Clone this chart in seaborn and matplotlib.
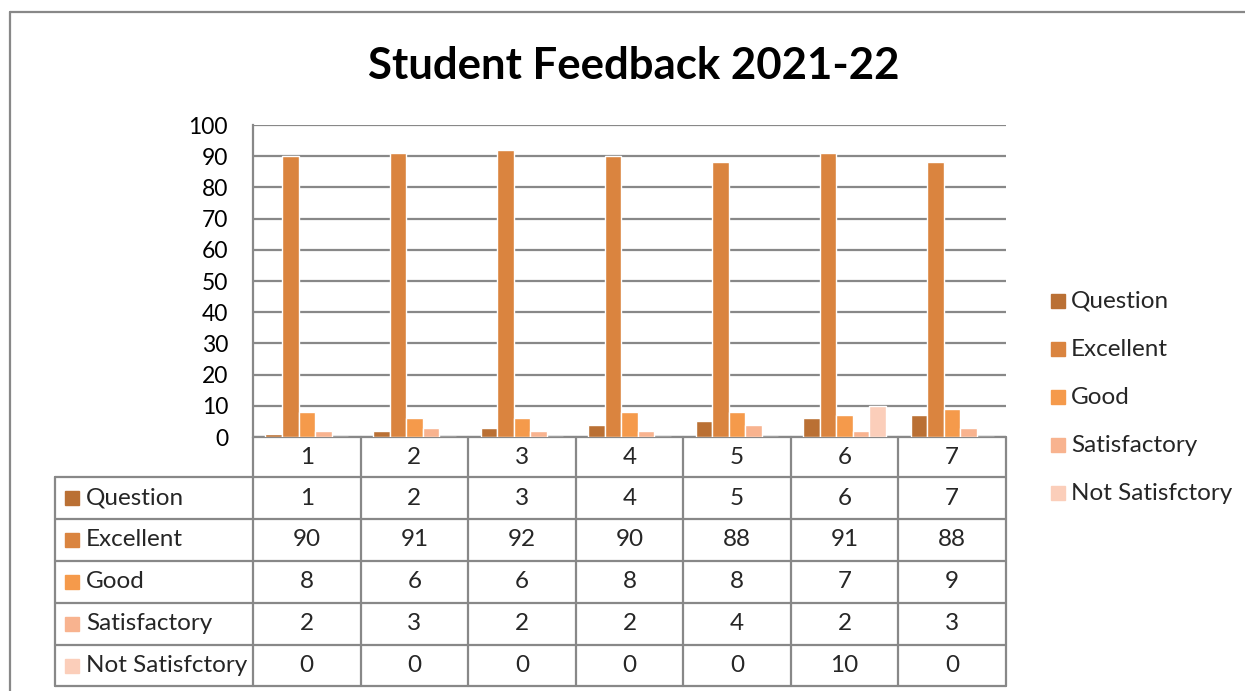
import numpy as np
import pandas as pd
import seaborn as sns
import matplotlib.pyplot as plt
from matplotlib.patches import Rectangle

"""
Data
"""

questions = ['1', '2', '3', '4', '5', '6', '7']
series_names = ['Question', 'Excellent', 'Good', 'Satisfactory', 'Not Satisfctory']
question_vals = [1, 2, 3, 4, 5, 6, 7]
excellent = [90, 91, 92, 90, 88, 91, 88]
good = [8, 6, 6, 8, 8, 7, 9]
satisfactory = [2, 3, 2, 2, 4, 2, 3]
not_satisfactory = [0, 0, 0, 0, 0, 10, 0]
colors = ['#BA7034', '#DA843F', '#F59A4B', '#F8B38F', '#FBCEBA']

all_series = [question_vals, excellent, good, satisfactory, not_satisfactory]
rows = []
for name, vals in zip(series_names, all_series):
    for q, v in zip(questions, vals):
        rows.append({'q': q, 'series': name, 'value': v})
df = pd.DataFrame(rows)

"""
Figure
"""

sns.set_theme(style='white')
plt.rcParams['font.family'] = ['Lato', 'DejaVu Sans']

W, H = 1245, 691
fig = plt.figure(figsize=(W / 100, H / 100), dpi=100)

# background layer in pixel coordinates for border, table and legend
bg = fig.add_axes([0, 0, 1, 1], zorder=0)
bg.set_xlim(0, W)
bg.set_ylim(H, 0)
bg.axis('off')

x0, x1 = 253, 1006
y_top, y_zero = 125, 437
ax = fig.add_axes([x0 / W, 1 - y_zero / H, (x1 - x0) / W, (y_zero - y_top) / H], zorder=1)
ax.patch.set_alpha(0)

sns.barplot(data=df, x='q', y='value', hue='series', order=questions,
            hue_order=series_names, palette=colors, saturation=1,
            width=5 / 6.5, legend=False, ax=ax)

grid_col = '#888888'
lw = 1.6
ax.set_ylim(0, 100)
ax.set_xlim(-0.5, len(questions) - 0.5)
ax.set_yticks(np.arange(0, 101, 10))
ax.yaxis.grid(True, color=grid_col, linewidth=lw)
ax.set_axisbelow(True)
ax.set_xticks([])
ax.set_xlabel('')
ax.set_ylabel('')
ax.tick_params(axis='y', length=0, pad=18, labelsize=16.5, labelcolor='black')
for s in ['top', 'right', 'bottom']:
    ax.spines[s].set_visible(False)
ax.spines['left'].set_color(grid_col)
ax.spines['left'].set_linewidth(lw)

# title
fig.text(634 / W, 1 - 66 / H, 'Student Feedback 2021-22', ha='center', va='center',
         fontsize=31.5, fontweight='bold', color='black')

# outer border
bg.plot([10, W], [12, 12], color=grid_col, lw=lw)
bg.plot([10, 10], [12, H], color=grid_col, lw=lw)

"""
Data table
"""

col_w = (x1 - x0) / len(questions)
row_edges = [437, 477, 519, 561, 603, 645, 686]
label_left = 55
fs = 17.5

bg.plot([x0, x1], [row_edges[0], row_edges[0]], color=grid_col, lw=lw)
for y in row_edges[1:]:
    bg.plot([label_left, x1], [y, y], color=grid_col, lw=lw)
for k in range(len(questions) + 1):
    xx = x0 + k * col_w
    bg.plot([xx, xx], [row_edges[0], row_edges[-1]], color=grid_col, lw=lw)
bg.plot([label_left, label_left], [row_edges[1], row_edges[-1]], color=grid_col, lw=lw)

ymid = (row_edges[0] + row_edges[1]) / 2
for k, q in enumerate(questions):
    bg.text(x0 + (k + 0.5) * col_w, ymid, q, ha='center', va='center', fontsize=fs)

for r, (name, vals, c) in enumerate(zip(series_names, all_series, colors)):
    ymid = (row_edges[r + 1] + row_edges[r + 2]) / 2
    bg.add_patch(Rectangle((65, ymid - 7), 14, 14, color=c))
    bg.text(86, ymid, name, ha='left', va='center', fontsize=fs)
    for k, v in enumerate(vals):
        bg.text(x0 + (k + 0.5) * col_w, ymid, str(v), ha='center', va='center', fontsize=fs)

"""
Legend
"""

for r, (name, c) in enumerate(zip(series_names, colors)):
    yy = 301 + r * 48
    bg.add_patch(Rectangle((1051, yy - 7), 14, 14, color=c))
    bg.text(1071, yy, name, ha='left', va='center', fontsize=fs)

fig.savefig('out.png', dpi=100)
